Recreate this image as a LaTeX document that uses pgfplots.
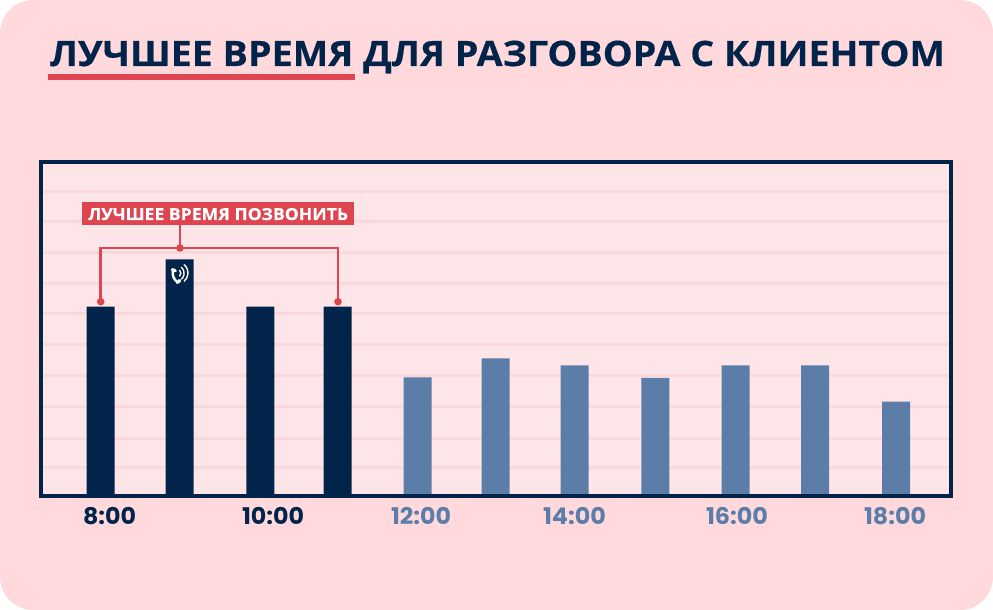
\documentclass[border=0pt]{standalone}
\usepackage{fontspec}
\usepackage{graphicx}
\usepackage{pgfplots}
\pgfplotsset{compat=1.18}
\setmainfont{Open Sans}[BoldFeatures={FakeBold=0.35}]
\newfontfamily\digitfont{Poppins}
\definecolor{outerbg}{HTML}{FFD9DC}
\definecolor{innerbg}{HTML}{FEE6E8}
\definecolor{gridc}{HTML}{FAD9DD}
\definecolor{darkb}{HTML}{02244A}
\definecolor{blueb}{HTML}{5B7DA8}
\definecolor{redc}{HTML}{DF4550}
\newcommand{\tl}[3]{\resizebox{#2pt}{\height}{\textcolor{#1}{\digitfont\bfseries #3}}}
\begin{document}
\begin{tikzpicture}[x=1pt,y=1pt]
\useasboundingbox (0,0) rectangle (993,610);
\fill[outerbg,rounded corners=33pt] (0,0) rectangle (993,610);
\node[anchor=base,inner sep=0pt,text=darkb,font=\fontsize{35}{35}\selectfont\bfseries] at (497.5,544)
  {\resizebox{895pt}{\height}{ЛУЧШЕЕ ВРЕМЯ ДЛЯ РАЗГОВОРА С КЛИЕНТОМ}};
\fill[redc] (48,529.5) rectangle (355,536);
\begin{axis}[
  at={(40.8pt,114pt)}, anchor=south west,
  scale only axis, width=910.2pt, height=334pt,
  xmin=40.8, xmax=951, ymin=0, ymax=334,
  axis background/.style={fill=innerbg},
  axis line style={draw=none},
  clip=false,
  major tick length=0pt,
  ytick={304.3,274.3,243.7,212.7,182,151.7,120,89.3,57.3,28.7},
  yticklabels={},
  ymajorgrids,
  grid style={gridc,line width=3pt},
  xtick={109.5,273,421,574.5,737,895},
  xticklabels={\tl{darkb}{53}{8:00},\tl{darkb}{62}{10:00},\tl{blueb}{60}{12:00},\tl{blueb}{63}{14:00},\tl{blueb}{62}{16:00},\tl{blueb}{62}{18:00}},
  every x tick label/.append style={anchor=base,yshift=-29pt,inner sep=0pt,font=\fontsize{23}{23}\selectfont},
  ybar, bar width=28pt, bar shift=0pt,
]
\addplot[fill=darkb,draw=none] coordinates {(100.7,189.3) (179.7,236.7) (260.3,189.3) (337.7,189.3)};
\addplot[fill=blueb,draw=none] coordinates {(417.5,118.7) (495.7,137.7) (574.7,130.7) (655.3,118) (735.5,130.7) (815,130.7) (896,94.3)};
% frame
\draw[darkb,line width=3.5pt] (axis cs:40.8,0) rectangle (axis cs:951,334);
% annotation
\draw[redc,line width=2.7pt] (axis cs:100.7,194.3) |- (axis cs:338,248) -- (axis cs:338,194.3);
\draw[redc,line width=2.7pt] (axis cs:180,248) -- (axis cs:180,272);
\fill[redc] (axis cs:100.7,194.3) circle[radius=3.8pt];
\fill[redc] (axis cs:338,194.3) circle[radius=3.8pt];
\fill[redc] (axis cs:180,248) circle[radius=3.8pt];
\fill[redc] (axis cs:82.3,271.3) rectangle (axis cs:354,293.7);
\node[anchor=base,inner sep=0pt,text=white,font=\fontsize{16.5}{16.5}\selectfont\bfseries] at (axis cs:218.2,276)
  {\resizebox{260pt}{\height}{ЛУЧШЕЕ ВРЕМЯ ПОЗВОНИТЬ}};
% phone icon (handset and sound waves)
\draw[white,line width=2.4pt] (axis cs:172.8,226.5) .. controls (axis cs:172,220) and (axis cs:174,216) .. (axis cs:178,213.5);
\draw[white,line width=3.2pt,line cap=round] (axis cs:172.3,226.3) -- (axis cs:175.3,225.2);
\draw[white,line width=3.2pt,line cap=round] (axis cs:177.3,213.5) -- (axis cs:179.8,215.5);
\draw[white,line width=1.4pt] (axis cs:179.5,226) arc[start angle=45,end angle=-45,radius=4.5pt];
\draw[white,line width=1.4pt] (axis cs:181.3,229) arc[start angle=50,end angle=-50,radius=8pt];
\draw[white,line width=1.4pt] (axis cs:184,231.5) arc[start angle=50,end angle=-50,radius=11pt];
\end{axis}
\end{tikzpicture}
\end{document}
